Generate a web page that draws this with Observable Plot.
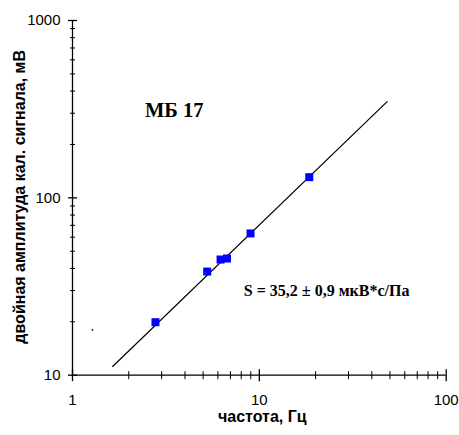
<!DOCTYPE html>
<html>
<head>
<meta charset="utf-8">
<script src="https://cdn.jsdelivr.net/npm/d3@7"></script>
<script src="https://cdn.jsdelivr.net/npm/@observablehq/plot@0.6"></script>
<style>
  html, body { margin: 0; padding: 0; background: #fff; }
  svg { display: block; }
</style>
</head>
<body>
<div id="chart"></div>
<script>
// Measured points: frequency (Hz) and double amplitude (mV)
const freq = [2.78, 5.26, 6.20, 6.71, 8.97, 18.5];
const amplitude = [19.9, 38.4, 44.9, 45.5, 63.0, 130.8];
// Fit line end points
const fitFreq = [1.64, 48.3];
const fitAmp = [11.2, 349];
// Stray dot in the picture
const strayFreq = [1.28];
const strayAmp = [18.0];
// Ticks
const xMajor = [1, 10, 100];
const xMinor = [2, 3, 4, 5, 6, 7, 8, 9, 20, 30, 40, 50, 60, 70, 80, 90];
const yMajor = [10, 100, 1000];
const yMinor = [20, 30, 40, 50, 60, 70, 80, 90, 200, 300, 400, 500, 600, 700, 800, 900];
// Texts
const titleText = "МБ 17";
const titlePos = [3.50, 313];
const sensText = "S = 35,2 ± 0,9 мкВ*с/Па";
const sensPos = [8.26, 30.0];
const xTitle = "частота, Гц";
const yTitle = "двойная амплитуда кал. сигнала, мВ";

const points = freq.map((f, i) => ({f, a: amplitude[i]}));
const fit = fitFreq.map((f, i) => ({f, a: fitAmp[i]}));
const stray = strayFreq.map((f, i) => ({f, a: strayAmp[i]}));

const sans = "'Liberation Sans', Arial, sans-serif";
const serif = "'Liberation Serif', 'Times New Roman', serif";

const vTick = (up, down) => ({draw(ctx) { ctx.moveTo(0, -up); ctx.lineTo(0, down); }});
const hTick = (left, right) => ({draw(ctx) { ctx.moveTo(-left, 0); ctx.lineTo(right, 0); }});
const square = (s) => ({draw(ctx) { ctx.rect(-s / 2, -s / 2, s, s); }});

const chart = Plot.plot({
  width: 459,
  height: 435,
  marginLeft: 72,
  marginRight: 13.3,
  marginTop: 20,
  marginBottom: 60.3,
  style: {background: "#fff", fontFamily: sans, overflow: "visible"},
  x: {type: "log", domain: [1, 100], axis: null},
  y: {type: "log", domain: [10, 1000], axis: null},
  marks: [
    // axis lines
    Plot.ruleY([10], {x1: 1, x2: 100, stroke: "#000", strokeWidth: 1.3}),
    Plot.ruleX([1], {y1: 10, y2: 1000, stroke: "#000", strokeWidth: 1.3}),
    // x ticks
    Plot.dot(xMinor, {x: d => d, y: 10, symbol: vTick(4, 4), r: 4, stroke: "#000", strokeWidth: 1, fill: "none"}),
    Plot.dot(xMajor, {x: d => d, y: 10, symbol: vTick(6, 6), r: 6, stroke: "#000", strokeWidth: 1.3, fill: "none"}),
    // y ticks
    Plot.dot(yMinor, {x: 1, y: d => d, symbol: hTick(2.5, 2.5), r: 3, stroke: "#000", strokeWidth: 1, fill: "none"}),
    Plot.dot(yMajor, {x: 1, y: d => d, symbol: hTick(4.5, 4.5), r: 4, stroke: "#000", strokeWidth: 1.3, fill: "none"}),
    // tick labels
    Plot.text(xMajor, {x: d => d, y: 10, text: d => String(d), dy: 25, fontSize: 15, fill: "#000", fontFamily: sans}),
    Plot.text(yMajor, {x: 1, y: d => d, text: d => String(d), dx: -12, textAnchor: "end", fontSize: 15, fill: "#000", fontFamily: sans}),
    // fit line
    Plot.line(fit, {x: "f", y: "a", stroke: "#000", strokeWidth: 1.2}),
    // data points
    Plot.dot(points, {x: "f", y: "a", symbol: square(8), r: 4, fill: "#0000ff", stroke: "none"}),
    Plot.dot(stray, {x: "f", y: "a", symbol: square(1.5), r: 1, fill: "#000", stroke: "none"}),
    // annotations
    Plot.text([titleText], {x: () => titlePos[0], y: () => titlePos[1], text: d => d, fontSize: 20.5, fontWeight: "bold", fontFamily: serif, fill: "#000"}),
    Plot.text([sensText], {x: () => sensPos[0], y: () => sensPos[1], text: d => d, textAnchor: "start", fontSize: 16, fontWeight: "bold", fontFamily: serif, fill: "#000"}),
    // axis titles
    Plot.text([xTitle], {frameAnchor: "bottom", text: d => d, textAnchor: "middle", dy: 47, dx: 3, fontSize: 16, fontWeight: "bold", fontFamily: sans, fill: "#000"}),
    Plot.text([yTitle], {frameAnchor: "left", text: d => d, textAnchor: "middle", rotate: -90, dx: -53, dy: -1, fontSize: 16, fontWeight: "bold", fontFamily: sans, fill: "#000"})
  ]
});
document.getElementById("chart").appendChild(chart);
</script>
</body>
</html>
